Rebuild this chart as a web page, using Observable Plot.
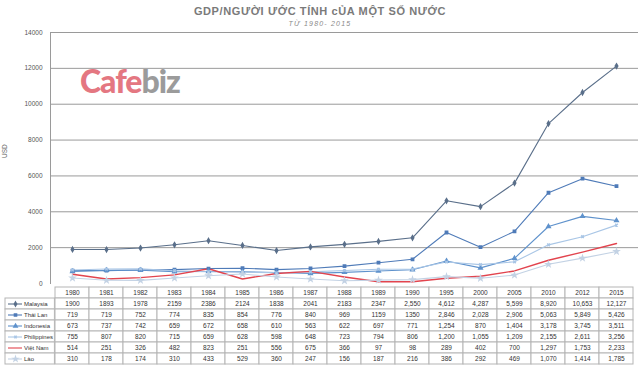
<!DOCTYPE html>
<html>
<head>
<meta charset="utf-8">
<script src="https://cdn.jsdelivr.net/npm/d3@7"></script>
<script src="https://cdn.jsdelivr.net/npm/@observablehq/plot@0.6"></script>
<style>
  body { margin: 0; background: #fff; font-family: "Liberation Sans", Arial, sans-serif; }
  #wrap { position: relative; width: 640px; height: 384px; overflow: hidden; }
  #title { position: absolute; left: 0; top: 5px; width: 640px; text-align: center; font-weight: bold; font-size: 11px; letter-spacing: 0.6px; color: #7a7a7a; }
  #subtitle { position: absolute; left: 0; top: 20px; width: 640px; text-align: center; font-style: italic; font-size: 7px; letter-spacing: 1.2px; color: #8a8a8a; }
  #logo { position: absolute; left: 80px; top: 61px; font-family: Lato, "Open Sans", sans-serif; font-weight: 900; font-size: 32px; letter-spacing: -1px; opacity: 0.85; }
  #logo .c { color: #e0606c; }
  #logo .b { color: #8a8a8a; }
  #chart { position: absolute; left: 0; top: 30px; }
  #table { position: absolute; left: 0; top: 283px; }
  svg { overflow: visible; }
</style>
</head>
<body>
<div id="wrap">
  <div id="title">GDP/NGƯỜI ƯỚC TÍNH cỦA MỘT SỐ NƯỚC</div>
  <div id="subtitle">TỪ 1980- 2015</div>
  <div id="chart"></div>
  <div id="logo"><span class="c">Cafe</span><span class="b">biz</span></div>
  <div id="table"></div>
</div>
<script>
const years = ["1980","1981","1982","1983","1984","1985","1986","1987","1988","1989","1990","1995","2000","2005","2010","2012","2015"];
const names = ["Malaysia","Thái Lan","Indonesia","Philippines","Việt Nam","Lào"];
const malaysia    = ["1900","1893","1978","2159","2386","2124","1838","2041","2183","2347","2,550","4,612","4,287","5,599","8,920","10,653","12,127"];
const thailan     = ["719","719","752","774","835","854","776","840","969","1159","1350","2,846","2,028","2,906","5,063","5,849","5,426"];
const indonesia   = ["673","737","742","659","672","658","610","563","622","697","771","1,254","870","1,404","3,178","3,745","3,511"];
const philippines = ["755","807","820","715","659","628","598","648","723","794","806","1,200","1,055","1,209","2,155","2,611","3,256"];
const vietnam     = ["514","251","326","482","823","251","556","675","366","97","98","289","402","700","1,297","1,753","2,233"];
const lao         = ["310","178","174","310","433","529","360","247","156","187","216","386","292","469","1,070","1,414","1,785"];
const yTicks = [0,2000,4000,6000,8000,10000,12000,14000];

const colors = ["#5a6f8a","#4f7bb8","#5f92cc","#a9c6e6","#e2444e","#c3d2e4"];
const symbols = ["diamond","square","triangle","times","circle","star"];
const seriesLabels = [malaysia, thailan, indonesia, philippines, vietnam, lao];

const data = names.flatMap((n, k) => years.map((y, i) => ({
  name: n, year: y, label: seriesLabels[k][i], value: +seriesLabels[k][i].replace(/,/g, "")
})));

const W = 640, ML = 50, MR = 2;
const step = (W - ML - MR) / years.length;

const chart = Plot.plot({
  width: W, height: 253, marginLeft: ML, marginRight: MR, marginTop: 2, marginBottom: 0,
  style: {background: "transparent", fontFamily: "Liberation Sans, Arial, sans-serif", fontSize: "6.5px", color: "#555", overflow: "visible"},
  x: {type: "point", domain: years, padding: 0.5, axis: null},
  y: {domain: [0, 14000], ticks: yTicks, tickSize: 0, tickPadding: 8, label: null, tickFormat: d => String(d)},
  color: {domain: names, range: colors},
  symbol: {domain: names, range: symbols},
  marks: [
    Plot.ruleY(yTicks.filter(d => d > 0), {stroke: "#9a9a9a", strokeWidth: 1}),
    Plot.frame({anchor: "left", stroke: "#9a9a9a"}),
    Plot.text(["USD"], {frameAnchor: "left", text: d => d, rotate: -90, dx: -46, fontSize: 6.5, fill: "#666"}),
    Plot.line(data, {x: "year", y: "value", z: "name", stroke: "name", strokeWidth: d => d.name === "Việt Nam" ? 1.4 : 1.1}),
    Plot.dot(data.filter(d => d.name !== "Việt Nam"), {x: "year", y: "value", symbol: "name", fill: "name", stroke: "name", r: 1.3})
  ]
});
document.getElementById("chart").appendChild(chart);

const rows = ["", ...names];
const table = Plot.plot({
  width: W, height: 84, marginLeft: ML, marginRight: MR, marginTop: 1, marginBottom: 1,
  style: {background: "transparent", fontFamily: "Liberation Sans, Arial, sans-serif", fontSize: "6.5px", color: "#333", overflow: "visible"},
  x: {type: "band", domain: years, padding: 0, axis: null},
  y: {type: "band", domain: rows, padding: 0, axis: null},
  color: {domain: names, range: colors},
  symbol: {domain: names, range: symbols},
  marks: [
    Plot.cell(years, {x: d => d, y: () => "", fill: "white", stroke: "#b5b5b5"}),
    Plot.cell(data, {x: "year", y: "name", fill: "white", stroke: "#b5b5b5"}),
    Plot.cell(names, {x: () => years[0], y: d => d, dx: -step, insetLeft: -(ML - step), fill: "white", stroke: "#b5b5b5"}),
    Plot.text(years, {x: d => d, y: () => "", text: d => d, fill: "#333", fontSize: 6.5}),
    Plot.text(data, {x: "year", y: "name", text: "label", fill: "#333", fontSize: 6.5}),
    Plot.tickY(names, {x: () => years[0], y: d => d, dx: -57, insetLeft: 10, insetRight: 10, stroke: d => d, strokeWidth: 1.1}),
    Plot.dot(names.filter(n => n !== "Việt Nam"), {x: () => years[0], y: d => d, dx: -57, symbol: d => d, fill: d => d, stroke: d => d, r: 1.2}),
    Plot.text(names, {x: () => years[0], y: d => d, text: d => d, dx: -48.5, textAnchor: "start", fill: "#333", fontSize: 6})
  ]
});
document.getElementById("table").appendChild(table);
</script>
</body>
</html>
